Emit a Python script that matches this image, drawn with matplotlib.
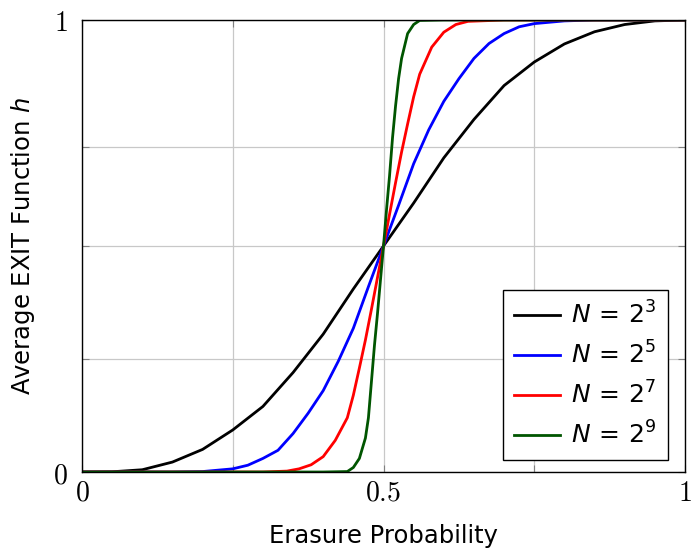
import numpy as np
import matplotlib
matplotlib.use('Agg')
from matplotlib import pyplot as plt

# average EXIT function h vs erasure probability
x3 = [0.0, 0.05, 0.1, 0.15, 0.2, 0.25, 0.3, 0.35, 0.4, 0.45, 0.5,
      0.55, 0.6, 0.65, 0.7, 0.75, 0.8, 0.85, 0.9, 0.95, 1.0]
h3 = [0.0, 0.0005, 0.005, 0.022, 0.05, 0.093, 0.145, 0.22, 0.305, 0.405, 0.5,
      0.595, 0.695, 0.78, 0.855, 0.907, 0.947, 0.974, 0.99, 0.998, 1.0]

x5 = [0.0, 0.15, 0.2, 0.25, 0.275, 0.3, 0.325, 0.35, 0.375, 0.4, 0.425, 0.45, 0.475, 0.5,
      0.525, 0.55, 0.575, 0.6, 0.625, 0.65, 0.675, 0.7, 0.725, 0.75, 0.8, 0.85, 1.0]
h5 = [0.0, 0.0, 0.001, 0.007, 0.015, 0.03, 0.048, 0.085, 0.13, 0.18, 0.245, 0.318, 0.41, 0.5,
      0.59, 0.682, 0.757, 0.82, 0.87, 0.915, 0.948, 0.97, 0.985, 0.992, 0.998, 1.0, 1.0]

x7 = [0.0, 0.3, 0.34, 0.36, 0.38, 0.4, 0.42, 0.44, 0.45, 0.46, 0.47, 0.48, 0.49, 0.5,
      0.51, 0.52, 0.53, 0.54, 0.55, 0.56, 0.58, 0.6, 0.62, 0.64, 0.7, 1.0]
h7 = [0.0, 0.0, 0.002, 0.007, 0.016, 0.034, 0.07, 0.12, 0.17, 0.23, 0.292, 0.36, 0.43, 0.5,
      0.57, 0.64, 0.708, 0.77, 0.83, 0.88, 0.94, 0.973, 0.99, 0.997, 1.0, 1.0]

x9 = [0.0, 0.4, 0.44, 0.45, 0.46, 0.47, 0.475, 0.48, 0.485, 0.49, 0.495, 0.5,
      0.505, 0.51, 0.515, 0.52, 0.525, 0.53, 0.54, 0.55, 0.56, 0.6, 1.0]
h9 = [0.0, 0.0, 0.001, 0.01, 0.03, 0.075, 0.12, 0.2, 0.28, 0.35, 0.425, 0.5,
      0.58, 0.655, 0.74, 0.81, 0.87, 0.915, 0.97, 0.99, 0.999, 1.0, 1.0]

labels = [r'$N\,=\,2^3$', r'$N\,=\,2^5$', r'$N\,=\,2^7$', r'$N\,=\,2^9$']
colors = ['black', 'blue', 'red', '#005500']

xticks = [0, 0.25, 0.5, 0.75, 1]
xticklabels = ['$0$', '', '$0.5$', '', '$1$']
yticks = [0, 0.25, 0.5, 0.72, 1]
yticklabels = ['$0$', '', '', '', '$1$']

fig = plt.figure(figsize=(6.92, 5.48), dpi=100)
ax = fig.add_axes([82/692, 76/548, 603/692, 452/548])

for xs, hs, c, lab in zip([x3, x5, x7, x9], [h3, h5, h7, h9], colors, labels):
    ax.plot(xs, hs, color=c, lw=2.0, label=lab, solid_joinstyle='round')

ax.set_xlim(0, 1)
ax.set_ylim(0, 1)
ax.set_xticks(xticks)
ax.set_xticklabels(xticklabels)
ax.set_yticks(yticks)
ax.set_yticklabels(yticklabels)
for t in ax.get_xticklabels() + ax.get_yticklabels():
    t.set_fontsize(20)
    t.set_math_fontfamily('cm')
ax.tick_params(direction='in', length=5, width=0.8, color='#808080',
               top=True, right=True)
ax.tick_params(axis='x', pad=5)
ax.tick_params(axis='y', pad=10)
ax.grid(True, color='#c8c8c8', lw=0.9)
ax.set_axisbelow(True)
for s in ax.spines.values():
    s.set_linewidth(1.0)
    s.set_color('black')

ax.set_xlabel('Erasure Probability', fontsize=17.5, labelpad=12)
ax.set_ylabel('Average EXIT Function $h$', fontsize=17.5, labelpad=12)

leg = ax.legend(loc='lower right', bbox_to_anchor=(0.972, 0.026),
                fontsize=18, frameon=True, fancybox=False,
                edgecolor='black', framealpha=1, handlelength=1.85,
                borderaxespad=0, labelspacing=0.52, handletextpad=0.45,
                borderpad=0.45)
leg.get_frame().set_linewidth(1.0)
for t in leg.get_texts():
    t.set_math_fontfamily('dejavusans')

fig.savefig('out.png', dpi=100)
